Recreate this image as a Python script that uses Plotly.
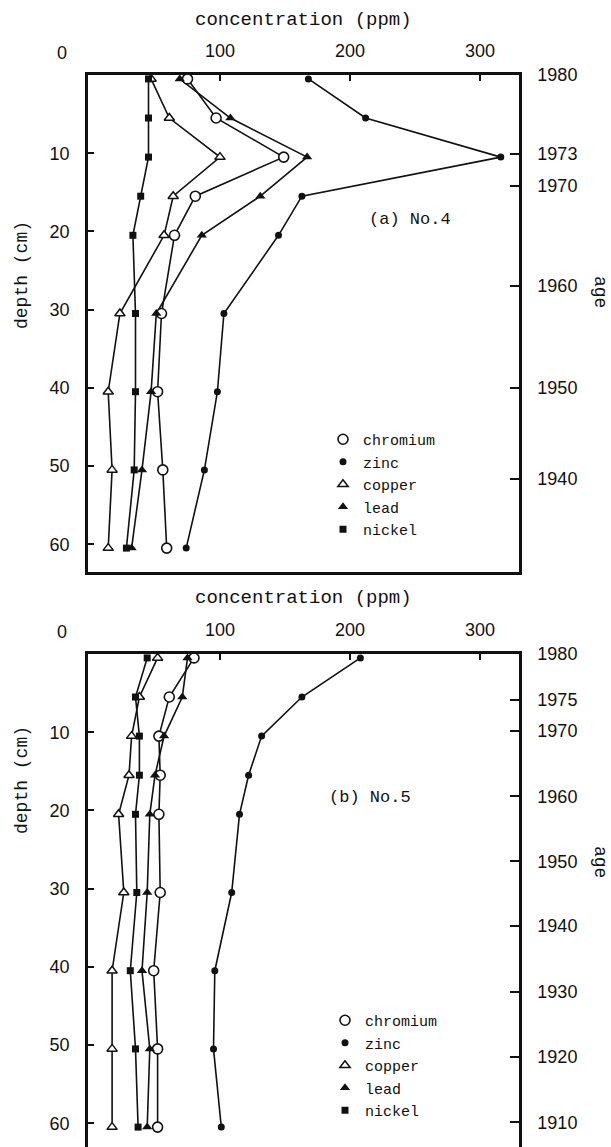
import plotly.graph_objects as go

W, H = 611, 1147

# ---------------- data ----------------
depths = [0.5, 5.5, 10.5, 15.5, 20.5, 30.5, 40.5, 50.5, 60.5]

# panel (a) No.4
chromium_a = [75, 97, 149, 81, 65, 55, 52, 56, 59]
zinc_a = [168, 212, 316, 163, 145, 103, 98, 88, 74]
copper_a = [47, 61, 100, 64, 57, 23, 14, 17, 14]
lead_a = [69, 108, 167, 131, 86, 51, 47, 40, 32]
nickel_a = [45, 45, 45, 39, 33, 35, 35, 34, 28]

# panel (b) No.5
chromium_b = [80, 61, 53, 54, 53, 54, 49, 52, 52]
zinc_b = [208, 163, 132, 122, 115, 109, 96, 95, 101]
copper_b = [52, 38, 32, 30, 22, 26, 17, 17, 17]
lead_b = [75, 71, 57, 50, 46, 44, 40, 46, 44]
nickel_b = [44, 35, 38, 38, 35, 36, 31, 35, 37]

conc_ticks = [100, 200, 300]
depth_ticks = [10, 20, 30, 40, 50, 60]

age_labels_a = ["1980", "1973", "1970", "1960", "1950", "1940"]
age_depths_a = [0, 10.1, 14.2, 27.0, 40.0, 51.6]

age_labels_b = ["1980", "1975", "1970", "1960", "1950", "1940", "1930", "1920", "1910"]
age_depths_b = [0, 5.9, 9.8, 18.2, 26.5, 34.8, 43.2, 51.5, 59.9]

metal_names = ["chromium", "zinc", "copper", "lead", "nickel"]

# ---------------- styles ----------------
MONO = "Liberation Mono"
SANS = "Liberation Sans"
INK = "#111111"

styles = {
    "chromium": dict(symbol="circle", size=10, color="white", line=dict(color=INK, width=1.6)),
    "zinc": dict(symbol="circle", size=7, color=INK, line=dict(color=INK, width=0)),
    "copper": dict(symbol="triangle-up", size=9, color="white", line=dict(color=INK, width=1.5)),
    "lead": dict(symbol="triangle-up", size=9, color=INK, line=dict(color=INK, width=0)),
    "nickel": dict(symbol="square", size=7, color=INK, line=dict(color=INK, width=0)),
}

panel_a = dict(zip(metal_names, [chromium_a, zinc_a, copper_a, lead_a, nickel_a]))
panel_b = dict(zip(metal_names, [chromium_b, zinc_b, copper_b, lead_b, nickel_b]))

fig = go.Figure()

def add_panel(data, xa, ya_lines, ya_marks, legend):
    for name in metal_names:
        fig.add_trace(go.Scatter(
            x=data[name], y=depths, xaxis=xa, yaxis=ya_lines, mode="lines",
            line=dict(color=INK, width=1.6), showlegend=False, hoverinfo="skip"))
    for name in metal_names:
        fig.add_trace(go.Scatter(
            x=data[name], y=depths, xaxis=xa, yaxis=ya_marks, mode="markers",
            marker=styles[name], name=name, legend=legend, showlegend=True))

add_panel(panel_a, "x", "y", "y3", "legend")
add_panel(panel_b, "x2", "y2", "y4", "legend2")

# ---------------- geometry (pixels) ----------------
L, R = 88, 519
TOP_A, BOT_A = 75, 572
TOP_B, BOT_B = 654, 1147
PX_PER_CM = 7.82
PX_PER_PPM = 1.30
X0 = 90  # pixel of 0 ppm

def px(xp):
    return xp / W

def py(yp):
    return 1 - yp / H

xrange = [(L - X0) / PX_PER_PPM, (R - X0) / PX_PER_PPM]
yrange_a = [(BOT_A - TOP_A) / PX_PER_CM, 0]
yrange_b = [(BOT_B - TOP_B) / PX_PER_CM, 0]

axis_common = dict(showgrid=False, zeroline=False, linecolor=INK, linewidth=2.5,
                   tickcolor=INK, tickwidth=1.6, automargin=False,
                   tickfont=dict(family=SANS, size=18, color=INK))

xcommon = dict(axis_common, range=xrange, side="top", ticks="inside", ticklen=6,
               tickvals=conc_ticks, showline=True, domain=[px(L), px(R)],
               ticklabelstandoff=8)

fig.update_layout(
    xaxis=dict(xcommon, anchor="y", mirror=True),
    xaxis2=dict(xcommon, anchor="y2", mirror=False),
    yaxis=dict(axis_common, range=yrange_a, domain=[py(BOT_A), py(TOP_A)],
               anchor="x", side="left", showline=True, ticks="inside", ticklen=6,
               tickvals=depth_ticks, ticklabelstandoff=12),
    yaxis2=dict(axis_common, range=yrange_b, domain=[0, py(TOP_B)],
                anchor="x2", side="left", showline=True, ticks="inside", ticklen=6,
                tickvals=depth_ticks, ticklabelstandoff=12),
    yaxis3=dict(axis_common, range=yrange_a, overlaying="y", anchor="x", side="right",
                showline=True, ticks="inside", ticklen=9,
                tickvals=age_depths_a, ticktext=age_labels_a, ticklabelstandoff=12),
    yaxis4=dict(axis_common, range=yrange_b, overlaying="y2", anchor="x2", side="right",
                showline=True, ticks="inside", ticklen=9,
                tickvals=age_depths_b, ticktext=age_labels_b, ticklabelstandoff=12),
)

leg_common = dict(font=dict(family=MONO, size=15, color=INK), bgcolor="rgba(0,0,0,0)",
                  xanchor="left", yanchor="top", tracegroupgap=0)
fig.update_layout(
    legend=dict(leg_common, x=px(323), y=py(423)),
    legend2=dict(leg_common, x=px(325), y=py(1004)),
)

# ---------------- text ----------------
ann = []
def text(x, y, s, size=18, family=MONO, angle=0, xanchor="center"):
    ann.append(dict(x=px(x), y=py(y), xref="paper", yref="paper", text=s,
                    showarrow=False, textangle=angle, xanchor=xanchor, yanchor="middle",
                    font=dict(family=family, size=size, color=INK)))

text(303, 20, "concentration (ppm)", size=19)
text(303, 598, "concentration (ppm)", size=19)
text(62, 53, "0", family=SANS)
text(62, 632, "0", family=SANS)
text(22, 275, "depth (cm)", angle=-90)
text(22, 780, "depth (cm)", angle=-90)
text(600, 292, "age", angle=90)
text(600, 862, "age", angle=90)
text(367, 220, "(a) No.4", size=17, xanchor="left")
text(327, 797, "(b) No.5", size=17, xanchor="left")

fig.update_layout(
    annotations=ann,
    width=W, height=H, margin=dict(l=0, r=0, t=0, b=0),
    paper_bgcolor="white", plot_bgcolor="white",
)

fig.write_html("out.html")
